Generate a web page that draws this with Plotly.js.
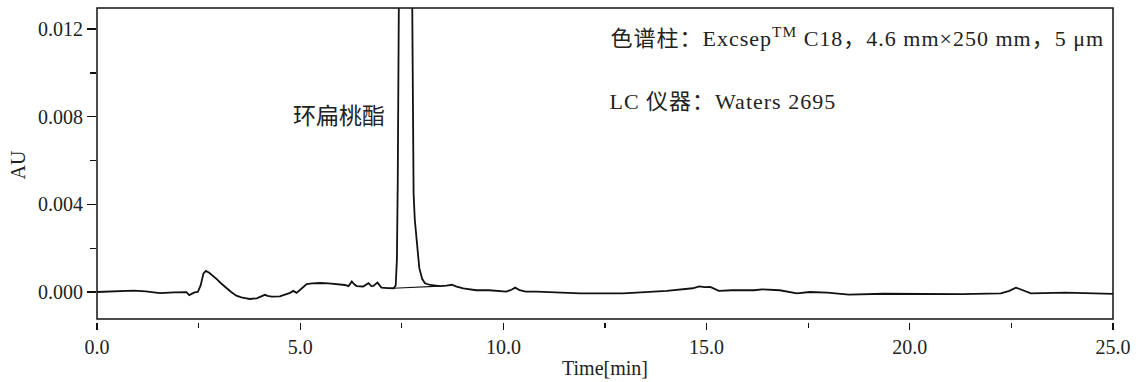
<!DOCTYPE html>
<html>
<head>
<meta charset="utf-8">
<script src="https://cdn.plot.ly/plotly-3.0.1.min.js"></script>
<style>
html,body{margin:0;padding:0;background:#fff;}
#chart{width:1140px;height:382px;}
.annotation[data-index="0"] .annotation-text,
.annotation[data-index="1"] .annotation-text{letter-spacing:1px;}
</style>
</head>
<body>
<div id="chart"></div>
<script>
// Chromatogram: time (min) and absorbance (AU)
var timeMin = [0.00,0.40,0.90,1.20,1.55,1.90,2.20,2.27,2.32,2.40,2.48,2.55,2.62,2.68,2.76,2.85,2.94,3.05,3.19,3.30,3.43,3.55,3.68,3.76,3.93,4.05,4.13,4.20,4.30,4.50,4.65,4.75,4.83,4.91,5.00,5.08,5.16,5.30,5.49,5.70,5.90,6.10,6.19,6.27,6.33,6.39,6.55,6.68,6.75,6.80,6.90,7.00,7.15,7.30,7.35,7.38,7.40,7.42,7.45,7.55,7.65,7.73,7.76,7.79,7.82,7.85,7.93,8.00,8.07,8.20,8.44,8.60,8.73,8.85,9.01,9.33,9.65,10.07,10.20,10.29,10.40,10.55,10.82,11.89,12.95,14.02,14.66,14.82,14.95,15.09,15.30,15.62,16.16,16.37,16.80,17.22,17.54,17.97,18.50,19.36,20.42,21.28,22.24,22.45,22.61,22.77,22.98,23.84,24.48,25.00];
var absAU = [0.00000,0.00002,0.00006,0.00003,-0.00005,-0.00002,-0.00001,-0.00014,-0.00010,-0.00002,0.00000,0.00030,0.00085,0.00096,0.00088,0.00075,0.00060,0.00040,0.00017,0.00000,-0.00017,-0.00025,-0.00029,-0.00032,-0.00029,-0.00020,-0.00013,-0.00018,-0.00021,-0.00020,-0.00010,-0.00004,0.00005,-0.00004,0.00010,0.00025,0.00036,0.00039,0.00041,0.00039,0.00037,0.00032,0.00027,0.00048,0.00035,0.00027,0.00025,0.00040,0.00027,0.00028,0.00043,0.00020,0.00018,0.00017,0.00030,0.00150,0.00500,0.01200,0.02000,0.03000,0.03000,0.02000,0.01300,0.00450,0.00330,0.00270,0.00110,0.00060,0.00040,0.00032,0.00027,0.00029,0.00033,0.00025,0.00017,0.00008,0.00008,0.00002,0.00010,0.00020,0.00008,0.00002,0.00002,-0.00006,-0.00006,0.00005,0.00017,0.00026,0.00022,0.00023,0.00005,0.00008,0.00008,0.00012,0.00008,-0.00006,0.00000,-0.00003,-0.00012,-0.00008,-0.00010,-0.00010,-0.00006,0.00005,0.00020,0.00008,-0.00006,-0.00003,-0.00006,-0.00009];
// Integration baseline under the main peak
var baseTime = [7.29, 8.44];
var baseAU = [0.00017, 0.00027];

var peakLabel = '环扁桃酯';
var infoLine1 = '色谱柱：Excsep<sup>TM</sup> C18，4.6 mm×250 mm，5 μm';
var infoLine2 = 'LC 仪器：Waters 2695';
var xTitle = 'Time[min]';
var yTitle = 'AU';

var serif = 'Liberation Serif, Noto Sans CJK SC, serif';
var ink = '#111111';

var traces = [
  {x: timeMin, y: absAU, type: 'scatter', mode: 'lines',
   line: {color: ink, width: 1.8}, hoverinfo: 'skip'},
  {x: baseTime, y: baseAU, type: 'scatter', mode: 'lines',
   line: {color: ink, width: 1.1}, hoverinfo: 'skip'}
];

var layout = {
  width: 1140, height: 382,
  margin: {l: 97, r: 27, t: 8, b: 60, pad: 0},
  paper_bgcolor: '#ffffff', plot_bgcolor: '#ffffff',
  showlegend: false,
  font: {family: serif, size: 20, color: '#222'},
  xaxis: {
    range: [0, 25], dtick: 5, tick0: 0, tickformat: '.1f',
    showgrid: false, zeroline: false, showline: false,
    ticks: 'outside', ticklen: 7, tickwidth: 1.4, tickcolor: ink,
    minor: {dtick: 2.5, tick0: 0, ticks: 'outside', ticklen: 5, tickwidth: 1.2, tickcolor: ink, showgrid: false},
    tickfont: {family: serif, size: 20, color: '#222'},
    title: {text: xTitle, font: {family: serif, size: 20, color: '#222'}, standoff: 3}
  },
  yaxis: {
    range: [-0.00137, 0.012967], dtick: 0.004, tick0: 0, tickformat: '.3f',
    showgrid: false, zeroline: false, showline: false,
    ticks: 'outside', ticklen: 9, tickwidth: 1.4, tickcolor: ink,
    minor: {dtick: 0.002, tick0: 0, ticks: 'outside', ticklen: 6, tickwidth: 1.2, tickcolor: ink, showgrid: false},
    tickfont: {family: serif, size: 20, color: '#222'},
    title: {text: yTitle, font: {family: serif, size: 20, color: '#222'}, standoff: 7}
  },
  shapes: [
    {type: 'rect', xref: 'paper', yref: 'paper', x0: 0, x1: 1, y0: 0.00955, y1: 1,
     line: {color: ink, width: 1.5}, fillcolor: 'rgba(0,0,0,0)', layer: 'above'}
  ],
  annotations: [
    {text: infoLine1, xref: 'paper', yref: 'paper', x: 0.749, y: 0.9076,
     xanchor: 'center', yanchor: 'middle', showarrow: false,
     font: {family: serif, size: 22, color: '#222'}},
    {text: infoLine2, xref: 'paper', yref: 'paper', x: 0.6166, y: 0.7038,
     xanchor: 'center', yanchor: 'middle', showarrow: false,
     font: {family: serif, size: 22, color: '#222'}},
    {text: peakLabel, xref: 'paper', yref: 'paper', x: 0.2382, y: 0.662,
     xanchor: 'center', yanchor: 'middle', showarrow: false,
     font: {family: 'Noto Sans CJK SC, sans-serif', size: 23, color: '#222'}}
  ]
};

Plotly.newPlot('chart', traces, layout, {staticPlot: true, displayModeBar: false});
</script>
</body>
</html>
